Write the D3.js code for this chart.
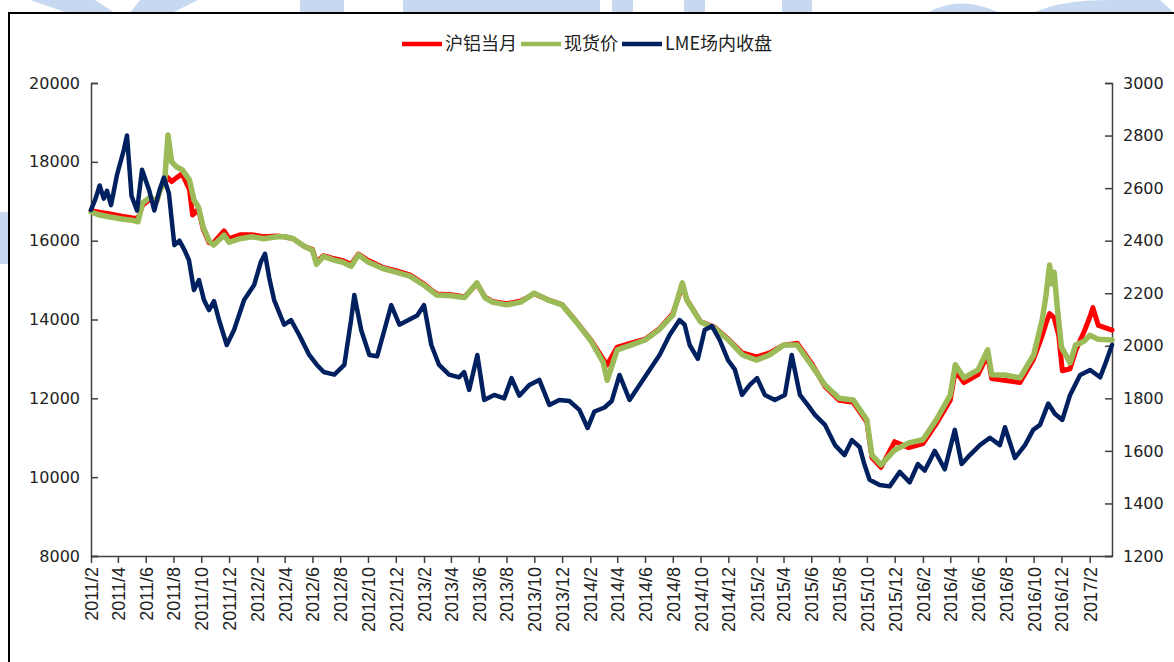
<!DOCTYPE html>
<html><head><meta charset="utf-8">
<script src="https://cdn.jsdelivr.net/npm/d3@7"></script>
<style>body{margin:0;background:#fff}svg{display:block}</style>
</head><body><svg id="c" width="1174" height="662"></svg>
<script>
// ---------- data ----------
const seriesNames = ["沪铝当月", "现货价", "LME场内收盘"];
const seriesColors = ["#ff0000", "#9bbb59", "#002060"];
const leftTicks = [8000, 10000, 12000, 14000, 16000, 18000, 20000];
const rightTicks = [1200, 1400, 1600, 1800, 2000, 2200, 2400, 2600, 2800, 3000];
const xStart = "2011-02-01", xEnd = "2017-03-22";
const firstTick = "2011-02-01", tickCount = 37, tickStepMonths = 2;

// 沪铝当月 (CNY/t, left axis)
const shfeMonth = [
["2011-02-01",16760],["2011-02-20",16720],["2011-03-15",16680],["2011-04-10",16620],["2011-05-01",16580],
["2011-05-15",16560],["2011-05-25",16900],["2011-06-10",17050],["2011-06-25",17000],["2011-07-05",17350],
["2011-07-12",17450],["2011-07-20",17600],["2011-07-28",17500],["2011-08-08",17600],["2011-08-20",17700],
["2011-09-05",17300],["2011-09-12",16650],["2011-09-25",16800],["2011-10-05",16300],["2011-10-18",15950],
["2011-10-28",15950],["2011-11-20",16250],["2011-12-01",16050],["2011-12-25",16150],["2012-01-20",16150],
["2012-02-15",16100],["2012-03-15",16120],["2012-04-01",16100],["2012-04-20",16050],["2012-05-15",15850],
["2012-06-01",15780],["2012-06-10",15450],["2012-06-25",15620],["2012-07-20",15540],["2012-08-05",15500],
["2012-08-25",15400],["2012-09-10",15660],["2012-10-01",15500],["2012-11-01",15330],["2012-12-01",15240],
["2013-01-01",15130],["2013-02-01",14900],["2013-02-20",14720],["2013-03-01",14650],["2013-04-01",14630],
["2013-05-01",14580],["2013-05-28",14900],["2013-06-15",14570],["2013-07-01",14460],["2013-08-01",14400],
["2013-09-01",14470],["2013-10-01",14650],["2013-11-01",14500],["2013-12-01",14380],["2014-01-01",13950],
["2014-02-01",13500],["2014-03-01",13000],["2014-03-10",12850],["2014-04-01",13300],["2014-05-01",13400],
["2014-06-01",13500],["2014-07-01",13750],["2014-08-01",14150],["2014-08-22",14850],["2014-09-01",14500],
["2014-10-01",13950],["2014-11-01",13800],["2014-12-01",13500],["2015-01-01",13150],["2015-02-01",13050],
["2015-03-01",13150],["2015-04-01",13350],["2015-05-01",13400],["2015-06-01",12900],["2015-07-01",12300],
["2015-08-01",11950],["2015-09-01",11900],["2015-10-01",11400],["2015-10-12",10500],["2015-11-01",10250],
["2015-12-01",10900],["2016-01-01",10750],["2016-02-01",10850],["2016-03-01",11350],["2016-04-01",11950],
["2016-04-12",12700],["2016-05-01",12400],["2016-06-01",12600],["2016-06-22",13100],["2016-07-01",12500],
["2016-08-01",12450],["2016-09-01",12400],["2016-10-01",13000],["2016-10-20",13600],["2016-10-28",13900],
["2016-11-05",14150],["2016-11-15",14050],["2016-11-25",13600],["2016-12-03",12700],["2016-12-20",12750],
["2017-01-01",13200],["2017-01-20",13700],["2017-02-01",14050],["2017-02-08",14300],["2017-02-20",13850],
["2017-03-22",13730]
];

// 现货价 (CNY/t, left axis)
const spotPrice = [
["2011-02-01",16727],["2011-02-20",16650],["2011-03-15",16600],["2011-04-10",16550],["2011-05-01",16520],
["2011-05-15",16480],["2011-05-25",16950],["2011-06-10",17100],["2011-06-25",17000],["2011-07-05",17350],
["2011-07-12",17400],["2011-07-20",18680],["2011-07-28",18000],["2011-08-08",17870],["2011-08-20",17800],
["2011-09-05",17540],["2011-09-15",17030],["2011-09-25",16850],["2011-10-05",16350],["2011-10-18",16000],
["2011-10-28",15890],["2011-11-20",16140],["2011-12-01",15960],["2011-12-25",16050],["2012-01-20",16100],
["2012-02-15",16050],["2012-03-15",16100],["2012-04-01",16100],["2012-04-20",16050],["2012-05-15",15850],
["2012-06-01",15760],["2012-06-10",15400],["2012-06-25",15600],["2012-07-20",15500],["2012-08-05",15460],
["2012-08-25",15350],["2012-09-10",15640],["2012-10-01",15460],["2012-11-01",15300],["2012-12-01",15200],
["2013-01-01",15100],["2013-02-01",14870],["2013-02-20",14700],["2013-03-01",14620],["2013-04-01",14600],
["2013-05-01",14560],["2013-05-28",14930],["2013-06-15",14550],["2013-07-01",14440],["2013-08-01",14370],
["2013-09-01",14440],["2013-10-01",14670],["2013-11-01",14490],["2013-12-01",14370],["2014-01-01",13940],
["2014-02-01",13480],["2014-03-01",12920],["2014-03-10",12460],["2014-04-01",13230],["2014-05-01",13350],
["2014-06-01",13480],["2014-07-01",13730],["2014-08-01",14110],["2014-08-22",14930],["2014-09-01",14490],
["2014-10-01",13940],["2014-11-01",13780],["2014-12-01",13480],["2015-01-01",13100],["2015-02-01",12970],
["2015-03-01",13100],["2015-04-01",13350],["2015-05-01",13350],["2015-06-01",12850],["2015-07-01",12340],
["2015-08-01",12000],["2015-09-01",11960],["2015-10-01",11450],["2015-10-12",10560],["2015-11-01",10310],
["2015-12-01",10690],["2016-01-01",10870],["2016-02-01",10950],["2016-03-01",11450],["2016-04-01",12080],
["2016-04-12",12850],["2016-05-01",12520],["2016-06-01",12720],["2016-06-22",13230],["2016-07-01",12600],
["2016-08-01",12590],["2016-09-01",12520],["2016-10-01",13100],["2016-10-20",14000],["2016-10-28",14600],
["2016-11-05",15380],["2016-11-10",14900],["2016-11-15",15200],["2016-11-22",14300],["2016-12-01",13300],
["2016-12-20",12900],["2017-01-01",13350],["2017-01-20",13450],["2017-02-01",13600],["2017-02-20",13500],
["2017-03-22",13480]
];

// LME场内收盘 (USD/t, right axis)
const lmeClose = [
["2011-02-01",2517],["2011-02-11",2560],["2011-02-20",2610],["2011-03-01",2560],["2011-03-08",2590],
["2011-03-17",2535],["2011-03-30",2650],["2011-04-14",2745],["2011-04-21",2800],["2011-05-01",2570],
["2011-05-13",2515],["2011-05-24",2670],["2011-06-09",2590],["2011-06-20",2515],["2011-07-01",2590],
["2011-07-11",2640],["2011-07-22",2580],["2011-08-03",2383],["2011-08-14",2400],["2011-08-25",2365],
["2011-09-04",2326],["2011-09-15",2212],["2011-09-26",2250],["2011-10-07",2174],["2011-10-18",2136],
["2011-10-29",2170],["2011-11-09",2098],["2011-11-26",2003],["2011-12-12",2060],["2012-01-03",2174],
["2012-01-25",2231],["2012-02-09",2320],["2012-02-18",2350],["2012-02-27",2260],["2012-03-09",2174],
["2012-03-31",2080],["2012-04-15",2098],["2012-05-03",2041],["2012-05-25",1965],["2012-06-11",1927],
["2012-06-26",1900],["2012-07-19",1890],["2012-08-10",1927],["2012-08-25",2100],["2012-09-01",2193],
["2012-09-16",2060],["2012-10-04",1965],["2012-10-21",1960],["2012-11-06",2060],["2012-11-21",2155],
["2012-12-09",2080],["2012-12-31",2100],["2013-01-17",2115],["2013-02-01",2155],["2013-02-17",2003],
["2013-03-06",1927],["2013-03-28",1890],["2013-04-19",1880],["2013-04-30",1900],["2013-05-11",1832],
["2013-05-29",1965],["2013-06-13",1794],["2013-07-05",1813],["2013-07-27",1800],["2013-08-12",1877],
["2013-08-29",1810],["2013-09-20",1851],["2013-10-12",1870],["2013-11-03",1775],["2013-11-25",1794],
["2013-12-17",1790],["2014-01-08",1756],["2014-01-26",1687],["2014-02-10",1750],["2014-03-04",1765],
["2014-03-20",1790],["2014-04-06",1889],["2014-04-28",1794],["2014-05-20",1851],["2014-06-11",1908],
["2014-07-03",1965],["2014-07-25",2041],["2014-08-16",2098],["2014-08-27",2080],["2014-09-07",2003],
["2014-09-25",1950],["2014-10-10",2060],["2014-10-26",2075],["2014-11-12",2022],["2014-11-30",1946],
["2014-12-15",1910],["2014-12-31",1813],["2015-01-17",1851],["2015-02-02",1877],["2015-02-19",1813],
["2015-03-13",1794],["2015-04-04",1813],["2015-04-19",1965],["2015-05-07",1813],["2015-05-24",1775],
["2015-06-09",1737],["2015-07-01",1699],["2015-07-23",1622],["2015-08-13",1584],["2015-08-29",1641],
["2015-09-15",1615],["2015-09-26",1546],["2015-10-07",1490],["2015-10-29",1470],["2015-11-20",1465],
["2015-12-12",1520],["2016-01-03",1480],["2016-01-21",1550],["2016-02-05",1525],["2016-02-27",1600],
["2016-03-20",1530],["2016-04-11",1680],["2016-04-26",1550],["2016-05-14",1584],["2016-06-05",1622],
["2016-06-27",1650],["2016-07-19",1622],["2016-07-30",1690],["2016-08-21",1573],["2016-09-12",1622],
["2016-09-30",1680],["2016-10-15",1699],["2016-11-02",1780],["2016-11-17",1740],["2016-12-03",1718],
["2016-12-20",1813],["2017-01-11",1889],["2017-02-02",1908],["2017-02-24",1880],["2017-03-07",1930],
["2017-03-22",2003]
];

// ---------- drawing ----------
const svg = d3.select("#c");
const parse = d3.timeParse("%Y-%m-%d");
const W = 1174, H = 662;
const plot = {left: 91, right: 1112, top: 83, bottom: 556};

// watermark shapes (outside the chart frame)
const wm = "#c6d9f1";
const wmg = svg.append("g").attr("fill", wm);
wmg.append("path").attr("d", "M30,0 L95,0 L115,13 L68,13 Z");
wmg.append("path").attr("d", "M140,0 L198,0 L172,13 L130,13 Z");
wmg.append("rect").attr("x", 300).attr("y", 0).attr("width", 44).attr("height", 13);
wmg.append("rect").attr("x", 403).attr("y", 0).attr("width", 197).attr("height", 13);
wmg.append("rect").attr("x", 612).attr("y", 0).attr("width", 21).attr("height", 13);
wmg.append("rect").attr("x", 684).attr("y", 0).attr("width", 21).attr("height", 13);
wmg.append("rect").attr("x", 782).attr("y", 0).attr("width", 30).attr("height", 13);
wmg.append("path").attr("d", "M927,13 Q960,-6 1000,13 Z");
wmg.append("path").attr("d", "M1033,13 Q1060,0 1110,0 L1160,0 L1174,13 Z");
wmg.append("rect").attr("x", 0).attr("y", 212).attr("width", 9).attr("height", 52);

// frame
svg.append("rect").attr("x", 9).attr("y", 13).attr("width", W).attr("height", H)
  .attr("fill", "#fff").attr("stroke", "#000").attr("stroke-width", 2);

const x = d3.scaleTime().domain([parse(xStart), parse(xEnd)]).range([plot.left, plot.right]);
const yL = d3.scaleLinear().domain([8000, 20000]).range([plot.bottom, plot.top]);
const yR = d3.scaleLinear().domain([1200, 3000]).range([plot.bottom, plot.top]);

const axisColor = "#404040";
const tickFont = "DejaVu Sans, Verdana, sans-serif";

// left axis (ticks point inward)
const gL = svg.append("g").attr("transform", `translate(${plot.left},0)`)
  .call(d3.axisRight(yL).tickValues(leftTicks).tickSize(7).tickFormat(d3.format("d")));
gL.selectAll("text").attr("x", -11).attr("text-anchor", "end");

// right axis (ticks point inward)
const gR = svg.append("g").attr("transform", `translate(${plot.right},0)`)
  .call(d3.axisLeft(yR).tickValues(rightTicks).tickSize(7).tickFormat(d3.format("d")));
gR.selectAll("text").attr("x", 11).attr("text-anchor", "start");

[gL, gR].forEach(g => {
  g.select(".domain").attr("stroke", axisColor).attr("stroke-width", 1.5);
  g.selectAll(".tick line").attr("stroke", axisColor).attr("stroke-width", 1.5);
  g.selectAll("text").attr("fill", "#222").style("font-family", tickFont).style("font-size", "16px");
});

// bottom axis: a tick every 2 months starting 2011/2
const monthTicks = d3.range(tickCount).map(i => d3.timeMonth.offset(parse(firstTick), i * tickStepMonths));
const gB = svg.append("g").attr("transform", `translate(0,${plot.bottom})`)
  .call(d3.axisBottom(x).tickValues(monthTicks).tickSize(7).tickSizeOuter(0).tickFormat(d3.timeFormat("%Y/%-m")));
gB.select(".domain").attr("stroke", axisColor).attr("stroke-width", 1.5);
gB.selectAll(".tick line").attr("stroke", axisColor).attr("stroke-width", 1.5);
gB.selectAll("text")
  .attr("transform", "rotate(-90)")
  .attr("x", -11).attr("y", 0).attr("dy", "0.36em")
  .attr("text-anchor", "end")
  .attr("fill", "#222")
  .style("font-family", "Liberation Sans, Arial, sans-serif").style("font-size", "18px");

// series
const lineL = d3.line().x(d => x(parse(d[0]))).y(d => yL(d[1]));
const lineR = d3.line().x(d => x(parse(d[0]))).y(d => yR(d[1]));
const g = svg.append("g").attr("fill", "none").attr("stroke-linejoin", "round").attr("stroke-linecap", "round");
g.append("path").datum(shfeMonth).attr("d", lineL).attr("stroke", seriesColors[0]).attr("stroke-width", 5);
g.append("path").datum(spotPrice).attr("d", lineL).attr("stroke", seriesColors[1]).attr("stroke-width", 5.5);
g.append("path").datum(lmeClose).attr("d", lineR).attr("stroke", seriesColors[2]).attr("stroke-width", 4.5);

// legend
const lg = svg.append("g");
let lx = 402;
seriesNames.forEach((name, i) => {
  lg.append("line").attr("x1", lx).attr("x2", lx + 40).attr("y1", 44).attr("y2", 44)
    .attr("stroke", seriesColors[i]).attr("stroke-width", 4.5);
  const t = lg.append("text").attr("x", lx + 43).attr("y", 44).attr("dy", "0.36em")
    .style("font-family", "Noto Sans CJK SC, sans-serif").style("font-size", "18px")
    .attr("fill", "#222").text(name);
  lx += 43 + t.node().getComputedTextLength() + 4;
});
</script></body></html>
